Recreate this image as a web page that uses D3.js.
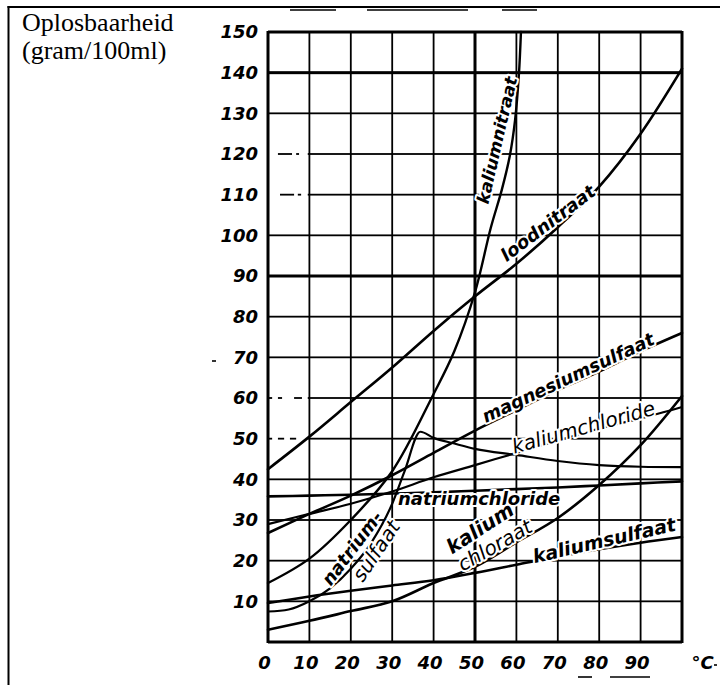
<!DOCTYPE html>
<html lang="nl">
<head>
<meta charset="UTF-8">
<title>Oplosbaarheid</title>
<script src="https://cdn.jsdelivr.net/npm/d3@7"></script>
<style>
  body { margin: 0; background: #fff; }
  svg { display: block; }
  .tick text { font-family: "DejaVu Sans", sans-serif; font-weight: bold; font-style: italic; fill: #000; }
  .lbl { font-family: "DejaVu Sans", sans-serif; font-style: italic; fill: #000;
         stroke: #fff; stroke-width: 4px; paint-order: stroke; stroke-linejoin: round; }
</style>
</head>
<body>
<div id="chart"></div>
<script>
// temperaturen (°C) en oplosbaarheid (gram/100ml)
const temps = [0, 10, 20, 30, 40, 50, 60, 70, 80, 90, 100];
const loodnitraat      = [42.5, 50.5, 59, 67.5, 76.5, 85, 93, 102, 112, 125, 141];
const magnesiumsulfaat = [26.8, 31.5, 36, 41, 46.5, 52, 57, 62, 66.5, 71.5, 76];
const kaliumchloride   = [29, 31.5, 34, 37, 40.5, 43.5, 46.5, 49.5, 52.5, 55, 57.8];
const natriumchloride  = [35.8, 36, 36.2, 36.5, 36.8, 37.2, 37.6, 38, 38.5, 39, 39.5];
const kaliumchloraat   = [3, 5.2, 7.6, 10, 14.5, 18.5, 24.5, 30.5, 38.6, 48.4, 60.5];
const kaliumsulfaat    = [9.6, 11.2, 12.6, 13.9, 15.2, 17, 19, 21, 22.8, 24.4, 25.8];

const kaliumnitraatT = [0, 10, 20, 30, 40, 45, 50, 53.8, 56.5, 58.4, 59.7, 60.6, 61.1];
const kaliumnitraatV = [14.5, 20.5, 30, 42, 61, 71.5, 86, 101.8, 111.3, 119.5, 128.5, 139.5, 150];

const natriumsulfaatT = [0, 5, 10, 15, 20, 25, 30, 33, 36.8, 40, 45, 50, 60, 70, 80, 90, 100];
const natriumsulfaatV = [7.5, 8, 10, 13.2, 18, 24.5, 34, 42, 51.7, 50.2, 48.8, 47.5, 46, 44.5, 43.5, 43.1, 43];

const xTicks = [0, 10, 20, 30, 40, 50, 60, 70, 80, 90, 100];
const xTickLabels = ["0", "10", "20", "30", "40", "50", "60", "70", "80", "90", "°C"];
const yTicks = [0, 10, 20, 30, 40, 50, 60, 70, 80, 90, 100, 110, 120, 130, 140, 150];
const yTickLabels = ["", "10", "20", "30", "40", "50", "60", "70", "80", "90", "100", "110", "120", "130", "140", "150"];

const W = 720, H = 685;
const x = d3.scaleLinear().domain([0, 100]).range([268, 682]);
const y = d3.scaleLinear().domain([0, 150]).range([642, 32]);

const svg = d3.select("#chart").append("svg").attr("width", W).attr("height", H);

// kader links en boven
svg.append("rect").attr("x", 7.5).attr("y", 6).attr("width", 2).attr("height", H - 6).attr("fill", "#000");
svg.append("rect").attr("x", 7.5).attr("y", 6).attr("width", W - 7.5).attr("height", 2).attr("fill", "#000");

// titel
const title = svg.append("text").attr("x", 22).attr("y", 31)
  .style("font-family", "'Liberation Serif', 'Times New Roman', serif").style("font-size", "26px");
title.append("tspan").attr("x", 22).text("Oplosbaarheid");
title.append("tspan").attr("x", 22).attr("dy", 28).text("(gram/100ml)");

const thickX = [0, 50, 100];
const thickY = [0, 90, 140, 150];
const lw = (thick) => thick ? 3 : 1.8;

// rooster als gevulde balkjes
const grid = svg.append("g");
grid.selectAll("rect.v").data(xTicks).join("rect").attr("class", "v")
  .attr("x", d => x(d) - lw(thickX.includes(d)) / 2).attr("width", d => lw(thickX.includes(d)))
  .attr("y", y(150) - 1).attr("height", y(0) - y(150) + 2)
  .attr("fill", "#000");

// horizontale lijnen in stukken; enkele lijnen zijn links gestreept (in temperatuur)
const hPieces = { 50: [[0, 1], [2.4, 3.9], [5.3, 6.8], [9.6, 100]], 60: [[0, 1], [2.4, 3.4], [6.3, 8.2], [9.6, 100]],
                  110: [[2.9, 6.3], [7.2, 8], [9.6, 100]], 120: [[2.4, 5.8], [6.8, 7.5], [9.6, 100]] };
const hData = yTicks.flatMap(v => (hPieces[v] || [[0, 100]]).map(p => ({ v, p })));
grid.selectAll("rect.h").data(hData).join("rect").attr("class", "h")
  .attr("x", d => x(d.p[0])).attr("width", d => x(d.p[1]) - x(d.p[0]))
  .attr("y", d => y(d.v) - lw(thickY.includes(d.v)) / 2).attr("height", d => lw(thickY.includes(d.v)))
  .attr("fill", "#000");

const gx = svg.append("g").attr("transform", `translate(0,${y(0)})`)
  .call(d3.axisBottom(x).tickValues(xTicks).tickSize(0).tickPadding(14)
    .tickFormat((d, i) => xTickLabels[i]));
gx.select(".domain").remove();
gx.selectAll(".tick text").style("font-size", "18px").attr("dx", d => d === 100 ? 20 : -4);

const gy = svg.append("g").attr("transform", `translate(${x(0)},0)`)
  .call(d3.axisLeft(y).tickValues(yTicks).tickSize(0).tickPadding(10)
    .tickFormat((d, i) => yTickLabels[i]));
gy.select(".domain").remove();
gy.selectAll(".tick text").style("font-size", "18px");

// krommen
const smooth = d3.line().x(d => x(d[0])).y(d => y(d[1])).curve(d3.curveCatmullRom.alpha(0.5));
const mono = d3.line().x(d => x(d[0])).y(d => y(d[1])).curve(d3.curveMonotoneX);
const series = [
  { name: "loodnitraat", pts: d3.zip(temps, loodnitraat), w: 2.6, gen: smooth },
  { name: "magnesiumsulfaat", pts: d3.zip(temps, magnesiumsulfaat), w: 2.6, gen: smooth },
  { name: "kaliumchloride", pts: d3.zip(temps, kaliumchloride), w: 2.2, gen: smooth },
  { name: "natriumchloride", pts: d3.zip(temps, natriumchloride), w: 2.6, gen: smooth },
  { name: "kaliumchloraat", pts: d3.zip(temps, kaliumchloraat), w: 2.6, gen: smooth },
  { name: "kaliumsulfaat", pts: d3.zip(temps, kaliumsulfaat), w: 2.6, gen: smooth },
  { name: "kaliumnitraat", pts: d3.zip(kaliumnitraatT, kaliumnitraatV), w: 2.4, gen: smooth },
  { name: "natriumsulfaat", pts: d3.zip(natriumsulfaatT, natriumsulfaatV), w: 2.2, gen: mono }
];
svg.append("g").selectAll("path").data(series).join("path")
  .attr("d", d => d.gen(d.pts))
  .attr("fill", "none").attr("stroke", "#000").attr("stroke-width", d => d.w)
  .attr("stroke-linecap", "round");

// opschriften langs de krommen
const labels = [
  { t: "kaliumnitraat", at: [55.3, 123.4], rot: -77, size: 17, weight: "bold" },
  { t: "loodnitraat", at: [67.6, 103], rot: -37, size: 18, weight: "bold" },
  { t: "magnesiumsulfaat", at: [72.5, 65], rot: -25, size: 18, weight: "bold" },
  { t: "kaliumchloride", at: [76.2, 52.8], rot: -15.5, size: 20, weight: "normal" },
  { t: "natriumchloride", at: [51, 35.2], rot: 0, size: 18, weight: "bold" },
  { t: "natrium-", at: [20.3, 23.1], rot: -53, size: 18, weight: "bold" },
  { t: "sulfaat", at: [26.1, 22.4], rot: -56, size: 20, weight: "normal" },
  { t: "kalium", at: [51.2, 28], rot: -33, size: 20, weight: "bold" },
  { t: "chloraat", at: [54.8, 23.8], rot: -30, size: 20, weight: "normal" },
  { t: "kaliumsulfaat", at: [81.2, 25], rot: -13, size: 19, weight: "bold" }
];
svg.append("g").selectAll("text").data(labels).join("text")
  .attr("class", "lbl")
  .attr("transform", d => `translate(${x(d.at[0])},${y(d.at[1])}) rotate(${d.rot})`)
  .attr("text-anchor", "middle").attr("dy", "0.35em")
  .style("font-size", d => d.size + "px").style("font-weight", d => d.weight)
  .text(d => d.t);

// kleine vlekjes van de scan
const specks = [[290, 10, 336, 10], [367, 10, 468, 10], [502, 10, 537, 10], [578, 677, 592, 677], [610, 677, 650, 677], [212, 361, 216, 361], [714, 665, 717, 665]];
svg.append("g").selectAll("line").data(specks).join("line")
  .attr("x1", d => d[0]).attr("y1", d => d[1]).attr("x2", d => d[2]).attr("y2", d => d[3])
  .attr("stroke", "#000").attr("stroke-width", 1.6);
</script>
</body>
</html>
